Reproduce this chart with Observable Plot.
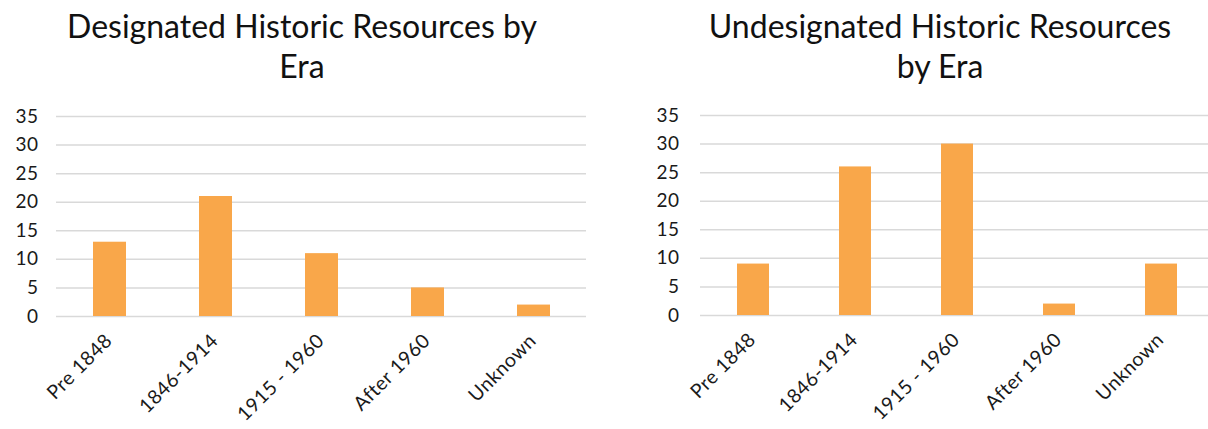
<!DOCTYPE html>
<html>
<head>
<meta charset="utf-8">
<script src="https://cdn.jsdelivr.net/npm/d3@7"></script>
<script src="https://cdn.jsdelivr.net/npm/@observablehq/plot@0.6"></script>
<style>
  html, body { margin: 0; padding: 0; background: #fff; }
  #wrap { display: flex; width: 1208px; height: 429px; overflow: hidden; }
  .panel { position: relative; overflow: hidden; }
  .title { position: absolute; top: 6px; font-family: Lato, "Open Sans", sans-serif; font-size: 32px; line-height: 40px; color: #111; text-align: center; white-space: nowrap; }
  .plotbox { position: absolute; left: 0; }
  .plotbox svg { font-family: Lato, "Open Sans", sans-serif; }
</style>
</head>
<body>
<div id="wrap">
  <div class="panel" id="p1" style="width:600px;height:429px"></div>
  <div class="panel" id="p2" style="width:608px;height:429px"></div>
</div>
<script>
const eras = ["Pre 1848", "1846-1914", "1915 - 1960", "After 1960", "Unknown"];
const designated = [13, 21, 11, 5, 2];
const undesignated = [9, 26, 30, 2, 9];
const yTicks = [0, 5, 10, 15, 20, 25, 30, 35];
const titles = [["Designated Historic Resources by", "Era"], ["Undesignated Historic Resources", "by Era"]];

function panel(el, values, title, opts) {
  const data = eras.map((e, i) => ({era: e, value: values[i]}));
  const t = document.createElement("div");
  t.className = "title";
  t.style.left = opts.titleLeft + "px";
  t.style.width = opts.titleWidth + "px";
  t.innerHTML = title.join("<br>");
  el.appendChild(t);
  const chart = Plot.plot({
    width: opts.width,
    height: 334,
    marginTop: 21,
    marginBottom: 113,
    marginLeft: opts.marginLeft,
    marginRight: opts.marginRight,
    style: {fontSize: "19.5px", color: "#1a1a1a", background: "transparent", letterSpacing: "0.5px", maxWidth: "none"},
    x: {domain: eras, paddingInner: 0.69, paddingOuter: 0.345, label: null},
    y: {domain: [0, 35], label: null},
    marks: [
      Plot.ruleY(yTicks, {stroke: "#d9d9d9", strokeWidth: 1.5}),
      Plot.barY(data, {x: "era", y: "value", fill: "#F9A74A"}),
      Plot.axisY({ticks: yTicks, tickSize: 0, tickPadding: opts.yPad, label: null, fontSize: 19}),
      Plot.axisX({tickSize: 0, tickPadding: 21, dx: -1, tickRotate: -45, label: null, fontSize: 19.5})
    ]
  });
  const box = document.createElement("div");
  box.className = "plotbox";
  box.style.top = opts.top + "px";
  box.appendChild(chart);
  el.appendChild(box);
}

panel(document.getElementById("p1"), designated, titles[0], {width: 600, marginLeft: 56, marginRight: 14, yPad: 18, top: 95, titleLeft: 0, titleWidth: 604});
panel(document.getElementById("p2"), undesignated, titles[1], {width: 614, marginLeft: 100, marginRight: 0, yPad: 21, top: 94, titleLeft: 0, titleWidth: 680});
</script>
</body>
</html>
